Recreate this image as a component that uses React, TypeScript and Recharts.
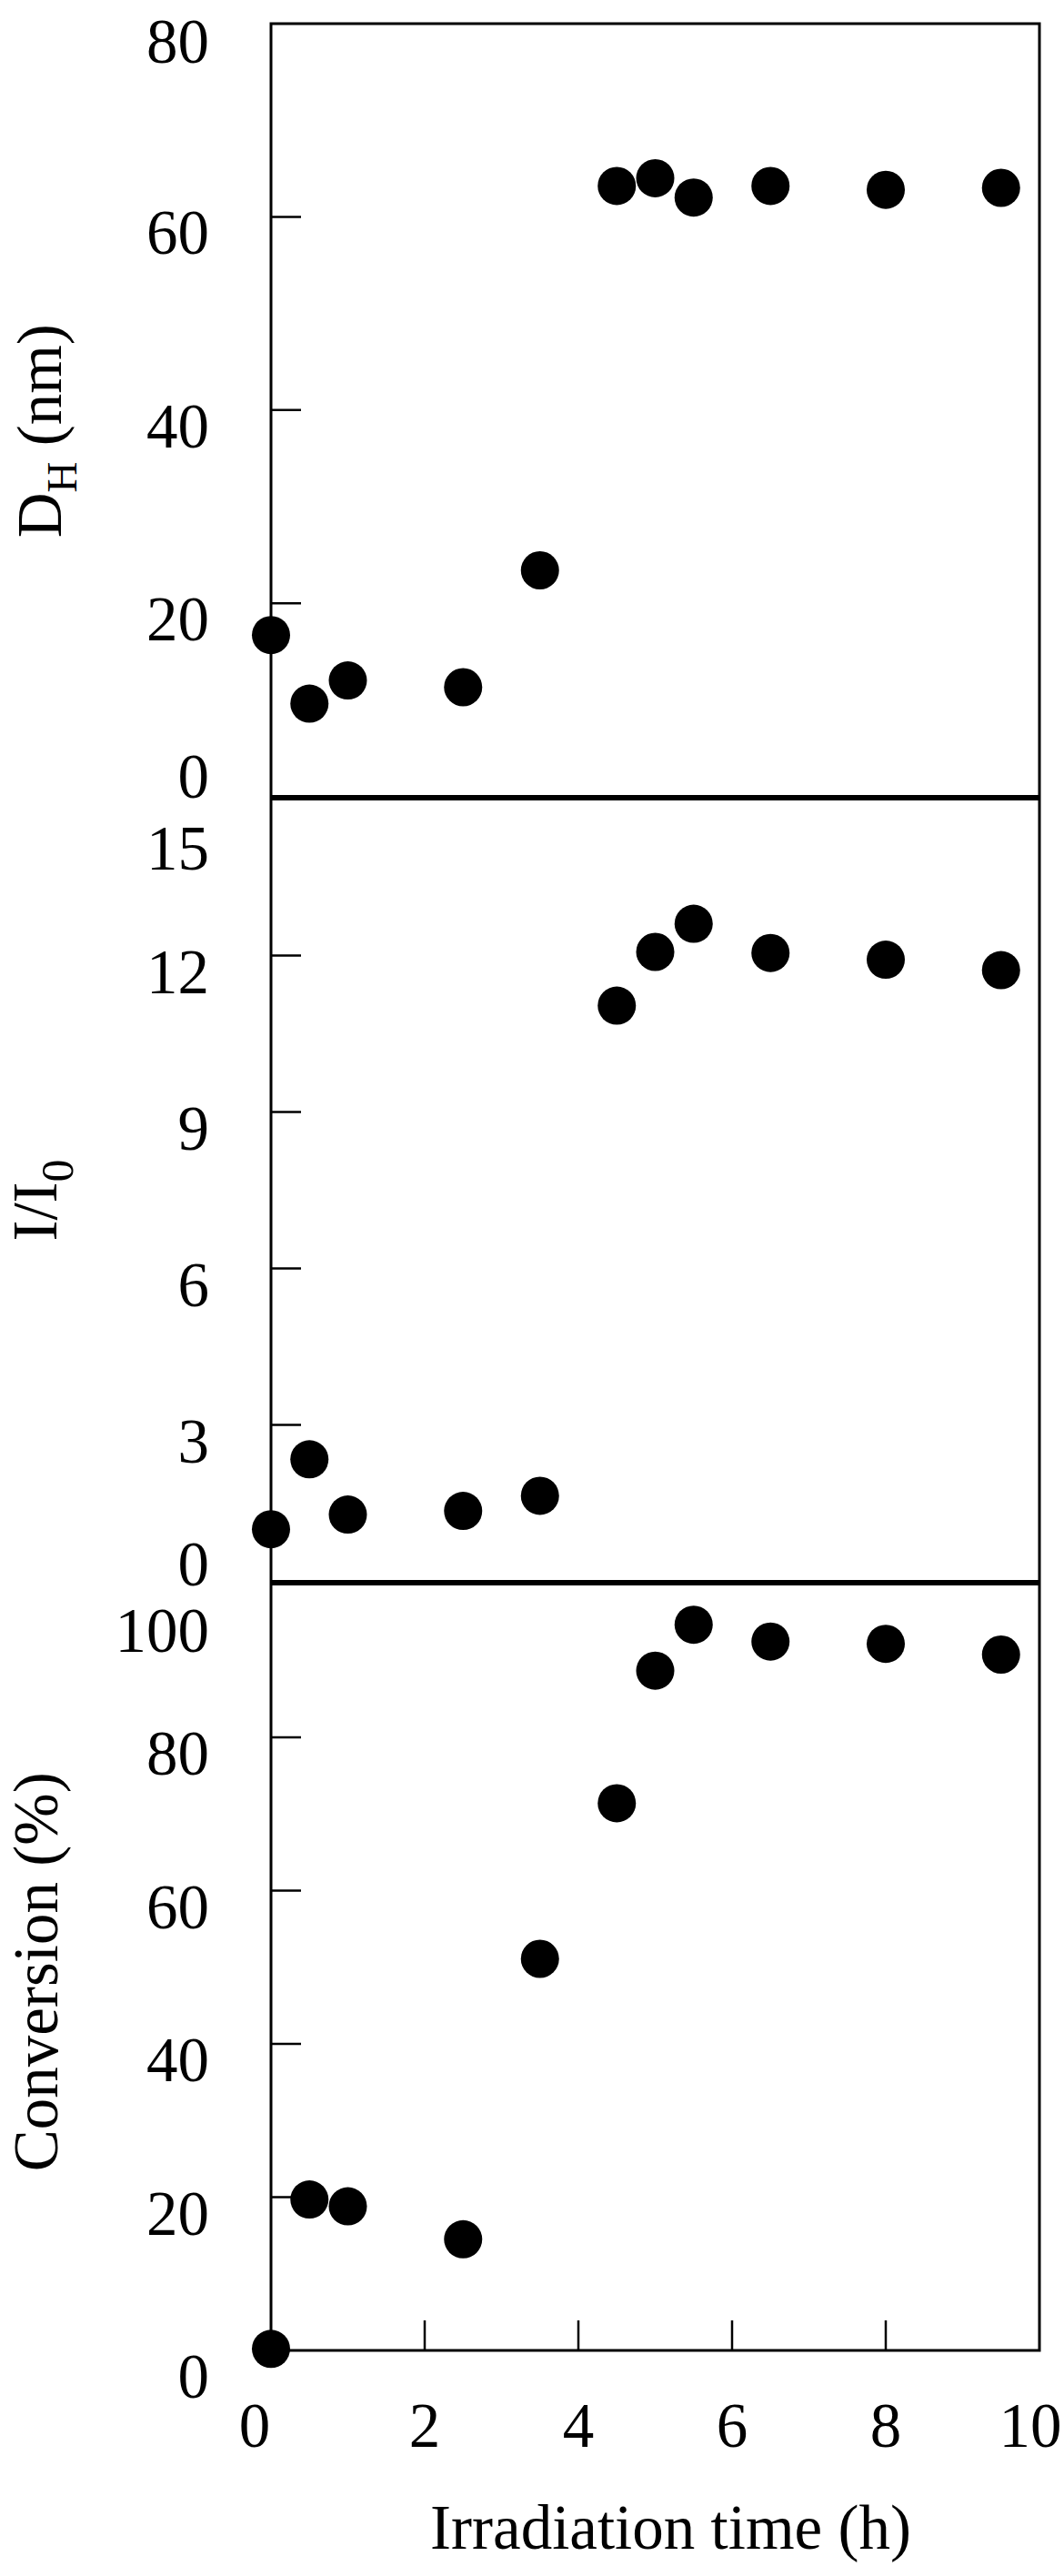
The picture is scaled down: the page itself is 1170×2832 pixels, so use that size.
import React from 'react';
import { ScatterChart, Scatter, XAxis, YAxis, ReferenceArea, Label } from 'recharts';

// irradiation time (h), shared by the three panels
const hours = [0, 0.5, 1, 2.5, 3.5, 4.5, 5, 5.5, 6.5, 8, 9.5];
// hydrodynamic diameter D_H (nm)
const diameter = [16.7, 9.6, 12.0, 11.3, 23.4, 63.2, 64.0, 62.0, 63.2, 62.8, 63.0];
// fluorescence ratio I/I0
const ratio = [1.0, 2.34, 1.28, 1.35, 1.64, 11.04, 12.07, 12.61, 12.05, 11.92, 11.72];
// conversion (%)
const conversion = [0.2, 19.7, 18.8, 14.5, 51.1, 71.4, 88.7, 94.7, 92.5, 92.2, 90.8];

const xTicks = [0, 2, 4, 6, 8, 10];
const diameterTicks = [0, 20, 40, 60, 80];
const ratioTicks = [0, 3, 6, 9, 12, 15];
const conversionTicks = [0, 20, 40, 60, 80, 100];

const FONT = "'Liberation Serif', 'Times New Roman', Times, serif";
const W = 1170;

function toPoints(values: number[]) {
  return hours.map((t, i) => ({ t, v: values[i] }));
}

const Dot = (props: any) => <circle cx={props.cx} cy={props.cy} r={21} fill="#000" />;

// inward tick marks + labels nudged like the original figure
function makeYTick(max: number, topDy: number, zeroDy: number) {
  return (props: any) => {
    const { x, y, payload } = props;
    const v = payload.value;
    const inner = v !== 0 && v !== max;
    const dy = v === max ? topDy : v === 0 ? zeroDy : 18;
    return (
      <g>
        {inner && <line x1={x} y1={y} x2={x + 33} y2={y} stroke="#000" strokeWidth={2.5} />}
        <text x={x - 68} y={y + dy + 23} textAnchor="end" fontFamily={FONT} fontSize={69} fill="#000">
          {v}
        </text>
      </g>
    );
  };
}

function makeXTick(showLabels: boolean) {
  return (props: any) => {
    const { x, y, payload } = props;
    const v = payload.value;
    const inner = v !== 0 && v !== 10;
    const dx = v === 0 ? -18 : v === 10 ? -10 : 0;
    return (
      <g>
        {inner && <line x1={x} y1={y} x2={x} y2={y - 33} stroke="#000" strokeWidth={2.5} />}
        {showLabels && (
          <text x={x + dx} y={y + 106} textAnchor="middle" fontFamily={FONT} fontSize={69} fill="#000">
            {v}
          </text>
        )}
      </g>
    );
  };
}

const yTitle = (lift: number, base: number, body: React.ReactNode) => (p: any) => {
  const vb = p.viewBox;
  const cy = vb.y + vb.height / 2 + lift;
  return (
    <text
      x={base}
      y={cy}
      transform={`rotate(-90 ${base} ${cy})`}
      textAnchor="middle"
      fontFamily={FONT}
      fontSize={69}
      fill="#000"
    >
      {body}
    </text>
  );
};

const xTitle = (p: any) => {
  const vb = p.viewBox;
  return (
    <text
      x={vb.x + vb.width / 2 + 17}
      y={vb.y + 218}
      textAnchor="middle"
      fontFamily={FONT}
      fontSize={69}
      fill="#000"
    >
      Irradiation time (h)
    </text>
  );
};

function Panel({ top, height, margin, values, yMax, yTicks, topDy, zeroDy, title, showX }: any) {
  return (
    <div style={{ position: 'absolute', left: 0, top, width: W, height }}>
      <ScatterChart width={W} height={height} margin={margin}>
        <XAxis
          type="number"
          dataKey="t"
          domain={[0, 10]}
          ticks={xTicks}
          interval={0}
          axisLine={false}
          tickLine={false}
          tickSize={0}
          tickMargin={0}
          height={showX ? 248 : 0}
          tick={makeXTick(showX)}
          label={showX ? <Label content={xTitle} /> : undefined}
        />
        <YAxis
          type="number"
          dataKey="v"
          domain={[0, yMax]}
          ticks={yTicks}
          interval={0}
          width={298}
          axisLine={false}
          tickLine={false}
          tickSize={0}
          tickMargin={0}
          tick={makeYTick(yMax, topDy, zeroDy)}
          label={<Label content={title} />}
        />
        <ReferenceArea x1={0} x2={10} y1={0} y2={yMax} fill="none" stroke="#000" strokeWidth={3} />
        <Scatter data={toPoints(values)} shape={Dot} isAnimationActive={false} />
      </ScatterChart>
    </div>
  );
}

export default function App() {
  return (
    <div style={{ position: 'absolute', left: 0, top: 0, width: W, height: 2832, background: '#fff' }}>
      <Panel
        top={0}
        height={900}
        margin={{ top: 26, right: 27, bottom: 24.5, left: 0 }}
        values={diameter}
        yMax={80}
        yTicks={diameterTicks}
        topDy={20}
        zeroDy={-22}
        showX={false}
        title={yTitle(23, 67, (
          <>
            <tspan>D</tspan>
            <tspan dy={17} fontSize={47}>H</tspan>
            <tspan dy={-17}> (nm)</tspan>
          </>
        ))}
      />
      <Panel
        top={850}
        height={920}
        margin={{ top: 28.5, right: 27, bottom: 31.5, left: 0 }}
        values={ratio}
        yMax={15}
        yTicks={ratioTicks}
        topDy={54}
        zeroDy={-19}
        showX={false}
        title={yTitle(11, 62, (
          <>
            <tspan>I/I</tspan>
            <tspan dy={18} fontSize={50}>0</tspan>
          </>
        ))}
      />
      <Panel
        top={1700}
        height={1132}
        margin={{ top: 41.5, right: 27, bottom: 0, left: 0 }}
        values={conversion}
        yMax={100}
        yTicks={conversionTicks}
        topDy={51}
        zeroDy={29}
        showX={true}
        title={yTitle(5, 63, 'Conversion (%)')}
      />
    </div>
  );
}
